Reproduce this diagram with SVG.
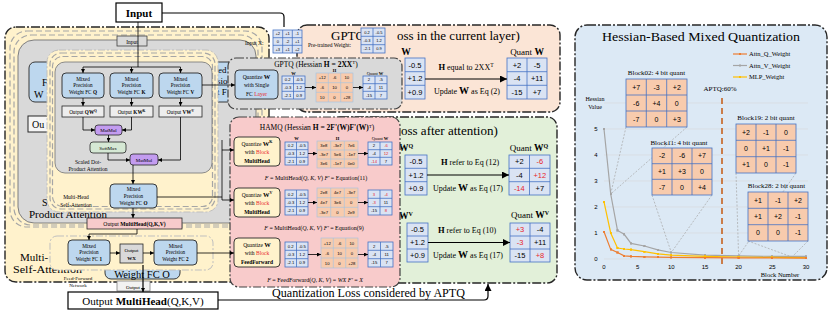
<svg xmlns="http://www.w3.org/2000/svg" width="831" height="317" viewBox="0 0 831 317">
<defs>
<style>
.sf{font-family:"Liberation Serif","Times New Roman",serif}
.ss{font-family:"Liberation Sans",Arial,sans-serif}
.frame{stroke:#262626;stroke-width:1.4;stroke-dasharray:9 2 2 2}
.mp{fill:#bdd7ee;stroke:#262626;stroke-width:0.9}
.ob{fill:#ededed;stroke:#262626;stroke-width:0.8}
.bc{fill:#dae3f3;stroke:#4472c4;stroke-width:0.8}
.bl{fill:none;stroke:#4472c4;stroke-width:0.8}
.oc{fill:#f8cbad;stroke:#4472c4;stroke-width:0.8}
.ocs{fill:#f8cbad;stroke:#9dc3e6;stroke-width:0.6}
.bls{fill:none;stroke:#9dc3e6;stroke-width:0.6}
.cr{fill:#fff2cc;stroke:#262626;stroke-width:0.9}
.gd{fill:none;stroke:#a6a6a6;stroke-width:1.2;stroke-dasharray:6 3}
.c{fill:none;stroke:#000;stroke-width:0.8}
.ct{fill:none;stroke:#000;stroke-width:1.2}
.r{fill:#e8262a}
.grid{stroke:#d9d9d9;stroke-width:0.6}
.dl{fill:none;stroke:#a6a6a6;stroke-width:0.7;stroke-dasharray:2 1.5}
</style>
<marker id="a" viewBox="0 0 6 6" refX="6" refY="3" markerWidth="4" markerHeight="4" markerUnits="userSpaceOnUse" orient="auto"><path d="M0,0L6,3L0,6z" fill="#000"/></marker>
<marker id="A" viewBox="0 0 6 6" refX="6" refY="3" markerWidth="7" markerHeight="7" markerUnits="userSpaceOnUse" orient="auto"><path d="M0,0L6,3L0,6z" fill="#000"/></marker>
<marker id="mo" viewBox="0 0 2 2" refX="1" refY="1" markerWidth="2.4" markerHeight="2.4" markerUnits="userSpaceOnUse"><rect width="2" height="2" fill="#ed7d31"/></marker>
<marker id="mg" viewBox="0 0 2 2" refX="1" refY="1" markerWidth="2.4" markerHeight="2.4" markerUnits="userSpaceOnUse"><rect width="2" height="2" fill="#a5a5a5"/></marker>
<marker id="my" viewBox="0 0 2 2" refX="1" refY="1" markerWidth="2.4" markerHeight="2.4" markerUnits="userSpaceOnUse"><rect width="2" height="2" fill="#ffc000"/></marker>
</defs>
<rect width="831" height="317" fill="#fff"/>

<!-- left background frames -->
<g id="multi-self-attention-frame">
<rect x="5" y="27" width="264" height="255" rx="11" fill="#fff2cc" class="frame"/>
<rect x="10" y="31" width="252" height="196" rx="17" class="gd"/>
<rect x="14" y="35" width="244" height="190" rx="17" class="gd"/>
<rect x="18" y="40" width="238" height="183" rx="16" fill="#d9d9d9" stroke="#7f7f7f" stroke-width="1"/>
<g id="ghost-fc-left"><rect x="29" y="62" width="60" height="40" rx="6" class="mp" stroke-width="1.2"/><text class="sf" font-size="10" x="42" y="86">F</text><text class="sf" font-size="10" x="34" y="98">W</text></g>
<g id="ghost-out-left"><rect x="28" y="116" width="40" height="16" fill="#f5f5f5" stroke="#262626" stroke-width="1"/><text class="sf" font-size="10" x="32" y="128">Ou</text></g>
<g id="ghost-fc-right"><rect x="205" y="62" width="40" height="40" rx="6" class="mp" stroke-width="1.2"/><text class="sf" font-size="9"><tspan x="218" y="73">ed</tspan><tspan x="217" y="84">sio</tspan><tspan x="217" y="95">t F</tspan></text></g>
<text class="sf" font-size="10" x="42" y="206">S</text>
<text class="sf" font-size="10" x="29" y="218" textLength="78" lengthAdjust="spacingAndGlyphs">Product Attention</text>
<text class="sf" font-size="11" x="20" y="261">Multi-</text>
<text class="sf" font-size="11" x="13" y="273" textLength="69" lengthAdjust="spacingAndGlyphs">Self-Attention</text>
</g>

<g id="multi-head-self-attention">
<rect x="47" y="50" width="171" height="162" rx="12" fill="#fff2cc" stroke="#bfbfbf" stroke-width="1" stroke-dasharray="7 2 2 2"/>
<rect x="50" y="53" width="165" height="156" rx="11" class="gd" stroke-width="1"/>
<rect x="52.5" y="56.5" width="160" height="150" rx="10" class="gd" stroke-width="1"/>
<text class="sf" font-size="5.5" text-anchor="middle"><tspan x="76" y="199">Multi-Head</tspan><tspan x="76" y="207">Self-Attention</tspan></text>
</g>
<g id="scaled-dot-product-attention">
<rect x="55" y="62" width="157" height="111" rx="10" fill="#d9d9d9" stroke="#7f7f7f" stroke-width="0.9"/>
<text class="sf" font-size="5.5" text-anchor="middle"><tspan x="88" y="164">Scaled Dot-</tspan><tspan x="88" y="171">Product Attention</tspan></text>
</g>
<g id="ghost-input"><rect x="117" y="36" width="30" height="10" fill="#d9d9d9" stroke="#404040" stroke-width="0.8"/><text class="sf" font-size="5.5" x="132" y="43.8" text-anchor="middle">Input</text></g>

<g id="fc-q"><rect x="62" y="73" width="42" height="25" rx="4" class="mp"/><text class="sf" font-size="5.2" text-anchor="middle"><tspan x="83" y="80.5">Mixed</tspan><tspan x="83" y="87.3">Precision</tspan><tspan x="83" y="94.1">Weight FC <tspan font-weight="bold">Q</tspan></tspan></text></g>
<g id="fc-k"><rect x="110" y="73" width="43" height="25" rx="4" class="mp"/><text class="sf" font-size="5.2" text-anchor="middle"><tspan x="131.5" y="80.5">Mixed</tspan><tspan x="131.5" y="87.3">Precision</tspan><tspan x="131.5" y="94.1">Weight FC <tspan font-weight="bold">K</tspan></tspan></text></g>
<g id="fc-v"><rect x="159" y="73" width="43" height="25" rx="4" class="mp"/><text class="sf" font-size="5.2" text-anchor="middle"><tspan x="180.5" y="80.5">Mixed</tspan><tspan x="180.5" y="87.3">Precision</tspan><tspan x="180.5" y="94.1">Weight FC <tspan font-weight="bold">V</tspan></tspan></text></g>
<g id="out-q"><rect x="62" y="106" width="42" height="11" class="ob"/><text class="sf" font-size="5.2" x="83" y="113.5" text-anchor="middle">Output <tspan font-weight="bold">QW</tspan><tspan font-weight="bold" font-size="3.6" dy="-2">Q</tspan></text></g>
<g id="out-k"><rect x="110" y="106" width="43" height="11" class="ob"/><text class="sf" font-size="5.2" x="131.5" y="113.5" text-anchor="middle">Output <tspan font-weight="bold">KW</tspan><tspan font-weight="bold" font-size="3.6" dy="-2">K</tspan></text></g>
<g id="out-v"><rect x="159" y="106" width="43" height="11" class="ob"/><text class="sf" font-size="5.2" x="180.5" y="113.5" text-anchor="middle">Output <tspan font-weight="bold">VW</tspan><tspan font-weight="bold" font-size="3.6" dy="-2">V</tspan></text></g>
<g id="matmul1"><rect x="95" y="125" width="27" height="10" rx="3" fill="#c39cf0" stroke="#262626" stroke-width="0.8"/><text class="sf" font-size="5" x="108.5" y="132" text-anchor="middle">MatMul</text></g>
<g id="softmax"><rect x="90" y="142" width="36" height="11" rx="3" fill="#d5e8d4" stroke="#262626" stroke-width="0.8"/><text class="sf" font-size="5" x="108" y="149.6" text-anchor="middle">SoftMax</text></g>
<g id="matmul2"><rect x="130" y="154" width="28" height="11" rx="3" fill="#c39cf0" stroke="#262626" stroke-width="0.8"/><text class="sf" font-size="5" x="144" y="161.6" text-anchor="middle">MatMul</text></g>
<g id="fc-o"><rect x="110" y="184" width="47" height="24" rx="4" class="mp"/><text class="sf" font-size="5.2" text-anchor="middle"><tspan x="133.5" y="191.3">Mixed</tspan><tspan x="133.5" y="198.1">Precision</tspan><tspan x="133.5" y="204.9">Weight FC <tspan font-weight="bold">O</tspan></tspan></text></g>
<g id="out-multihead-small"><rect x="87" y="218" width="95" height="11" fill="#f8cbcb" stroke="#262626" stroke-width="0.8"/><text class="sf" font-size="5.6" x="134.5" y="225.6" text-anchor="middle">Output <tspan font-weight="bold">MultiHead(Q,K,V)</tspan></text></g>

<g id="ghost-fc-o-bottom"><rect x="105" y="245" width="75" height="34" rx="6" class="mp" stroke-width="1.2"/><text class="sf" font-size="10.5" x="142" y="278" text-anchor="middle">Weight FC O</text></g>
<g id="feed-forward-network">
<rect x="50" y="236" width="163" height="34" rx="7" fill="#fff2cc" stroke="#bfbfbf" stroke-width="1" stroke-dasharray="7 2 2 2"/>
<text class="sf" font-size="5" text-anchor="middle"><tspan x="78" y="280">Feed-Forward</tspan><tspan x="78" y="287">Network</tspan></text>
</g>
<g id="fc-1"><rect x="68" y="240" width="42" height="25" rx="4" class="mp"/><text class="sf" font-size="5.2" text-anchor="middle"><tspan x="89" y="247.5">Mixed</tspan><tspan x="89" y="254.3">Precision</tspan><tspan x="89" y="261.1">Weight FC <tspan font-weight="bold">1</tspan></tspan></text></g>
<g id="out-wx"><rect x="120" y="244" width="23" height="19" fill="#d9d9d9" stroke="#262626" stroke-width="0.8"/><text class="sf" font-size="5" text-anchor="middle"><tspan x="131.5" y="251.5">Output</tspan><tspan x="131.5" y="259.5" font-weight="bold">WX</tspan></text></g>
<g id="fc-2"><rect x="154" y="240" width="43" height="25" rx="4" class="mp"/><text class="sf" font-size="5.2" text-anchor="middle"><tspan x="175.5" y="247.5">Mixed</tspan><tspan x="175.5" y="254.3">Precision</tspan><tspan x="175.5" y="261.1">Weight FC <tspan font-weight="bold">2</tspan></tspan></text></g>
<g id="ghost-output-bottom"><rect x="117" y="281" width="33" height="10" fill="#f2f2f2" stroke="#7f7f7f" stroke-width="0.8"/><text class="sf" font-size="5" x="133" y="288.5" text-anchor="middle">Output</text></g>

<g id="input"><rect x="116" y="3" width="46" height="19" fill="#fff" stroke="#000" stroke-width="1.2"/><text class="sf" font-size="11" font-weight="bold" x="139" y="16.5" text-anchor="middle">Input</text></g>
<g id="output-multihead"><rect x="68" y="292" width="150" height="17" fill="#fff" stroke="#000" stroke-width="1.2"/><text class="sf" font-size="11" x="143" y="304.5" text-anchor="middle">Output <tspan font-weight="bold">MultiHead</tspan>(Q,K,V)</text></g>
<text class="sf" font-size="11.5" x="272" y="297" textLength="193" lengthAdjust="spacingAndGlyphs">Quantization Loss considered by APTQ</text>

<!-- GPTQ loss panel -->
<g id="gptq-loss">
<rect x="297" y="25" width="263" height="87" rx="10" fill="#fbe5d6" class="frame"/>
<text class="sf" font-size="13" x="331" y="40">GPTQ</text>
<text class="sf" font-size="13" x="397" y="40">oss in the current layer)</text>
<text class="sf" font-size="9.5" font-weight="bold" x="406" y="55" text-anchor="middle">W</text>
<rect x="405" y="58" width="20" height="41" class="bc"/><path class="bl" d="M405,71.7h20M405,85.3h20"/>
<g class="ss" font-size="7.5" text-anchor="middle"><text x="415" y="67.5">-0.5</text><text x="415" y="81.1">+1.2</text><text x="415" y="94.8">+0.9</text></g>
<text class="sf" font-size="9" x="527" y="55" text-anchor="middle">Quant <tspan font-weight="bold" font-size="9.5">W</tspan></text>
<rect x="507" y="58" width="40" height="41" class="bc"/><path class="bl" d="M527,58v41M507,71.7h40M507,85.3h40"/>
<g class="ss" font-size="7.5" text-anchor="middle"><text x="517" y="67.5">+2</text><text x="537" y="67.5">-5</text><text x="517" y="81.1">-4</text><text x="537" y="81.1">+11</text><text x="517" y="94.8">-15</text><text x="537" y="94.8">+7</text></g>
<text class="sf" font-size="8" x="466" y="70" text-anchor="middle"><tspan font-weight="bold" font-size="8.5">H</tspan> equal to 2XX<tspan font-size="5.5" dy="-3">T</tspan></text>
<text class="sf" font-size="8" x="467" y="94" text-anchor="middle">Update <tspan font-weight="bold" font-size="10">W</tspan> as Eq (2)</text>
</g>

<!-- APTQ loss panel -->
<g id="aptq-loss">
<rect x="330" y="117" width="227" height="166" rx="10" fill="#e2f0d9" class="frame"/>
<text class="sf" font-size="13" x="401" y="135">oss after attention)</text>
<text class="sf" font-size="9.5" font-weight="bold" x="406" y="151" text-anchor="middle">W<tspan font-size="6" dy="-3.5">Q</tspan></text>
<rect x="405" y="155" width="22" height="40" class="bc"/><path class="bl" d="M405,168.3h22M405,181.7h22"/>
<g class="ss" font-size="7.5" text-anchor="middle"><text x="416" y="164.3">-0.5</text><text x="416" y="177.6">+1.2</text><text x="416" y="190.9">+0.9</text></g>
<text class="sf" font-size="9" x="529" y="151" text-anchor="middle">Quant <tspan font-weight="bold" font-size="9.5">W</tspan><tspan font-weight="bold" font-size="6" dy="-3.5">Q</tspan></text>
<rect x="509" y="155" width="41" height="40" class="bc"/><path class="bl" d="M529.5,155v40M509,168.3h41M509,181.7h41"/>
<g class="ss" font-size="7.5" text-anchor="middle"><text x="519.3" y="164.3">+2</text><text x="539.8" y="164.3" class="r">-6</text><text x="519.3" y="177.6">-4</text><text x="539.8" y="177.6" class="r">+12</text><text x="519.3" y="190.9" class="r">-14</text><text x="539.8" y="190.9">+7</text></g>
<text class="sf" font-size="8" x="470" y="165" text-anchor="middle"><tspan font-weight="bold" font-size="8.5">H</tspan> refer to Eq (12)</text>
<text class="sf" font-size="8" x="468" y="191" text-anchor="middle">Update <tspan font-weight="bold" font-size="10">W</tspan> as Eq (17)</text>
<text class="sf" font-size="9.5" font-weight="bold" x="406" y="219" text-anchor="middle">W<tspan font-size="6" dy="-3.5">V</tspan></text>
<rect x="407" y="223" width="21" height="39" class="bc"/><path class="bl" d="M407,236h21M407,249h21"/>
<g class="ss" font-size="7.5" text-anchor="middle"><text x="417.5" y="232.1">-0.5</text><text x="417.5" y="245.1">+1.2</text><text x="417.5" y="258.1">+0.9</text></g>
<text class="sf" font-size="9" x="530" y="218" text-anchor="middle">Quant <tspan font-weight="bold" font-size="9.5">W</tspan><tspan font-weight="bold" font-size="6" dy="-3.5">V</tspan></text>
<rect x="510" y="223" width="40" height="39" class="bc"/><path class="bl" d="M530,223v39M510,236h40M510,249h40"/>
<g class="ss" font-size="7.5" text-anchor="middle"><text x="520" y="232.1" class="r">+3</text><text x="540" y="232.1">-4</text><text x="520" y="245.1" class="r">-3</text><text x="540" y="245.1">+11</text><text x="520" y="258.1">-15</text><text x="540" y="258.1" class="r">+8</text></g>
<text class="sf" font-size="8" x="467" y="233" text-anchor="middle"><tspan font-weight="bold" font-size="8.5">H</tspan> refer to Eq (10)</text>
<text class="sf" font-size="8" x="468" y="258" text-anchor="middle">Update <tspan font-weight="bold" font-size="10">W</tspan> as Eq (17)</text>
</g>

<!-- floating input / weight matrices -->
<g id="input-x">
<text class="sf" font-size="5.5" x="245" y="45">Input X:</text>
<rect x="273" y="30" width="29" height="23" class="bc"/><path class="bl" d="M282.7,30v23M292.3,30v23M273,37.7h29M273,45.3h29"/>
<g class="ss" font-size="4" text-anchor="middle"><text x="277.8" y="35.3">+2</text><text x="287.5" y="35.3">+1</text><text x="297.2" y="35.3">-1</text><text x="277.8" y="43">0</text><text x="287.5" y="43">-2</text><text x="297.2" y="43">+1</text><text x="277.8" y="50.7">+3</text><text x="287.5" y="50.7">+1</text><text x="297.2" y="50.7">+2</text></g>
</g>
<g id="pretrained-weight">
<text class="sf" font-size="5.5" x="308" y="46.5">Pre-trained Weight:</text>
<rect x="361" y="28" width="24" height="25" class="bc"/><path class="bl" d="M373,28v25M361,36.3h24M361,44.7h24"/>
<g class="ss" font-size="4" text-anchor="middle"><text x="367" y="33.7">0.2</text><text x="379" y="33.7">-0.5</text><text x="367" y="42">-0.3</text><text x="379" y="42">1.2</text><text x="367" y="50.3">-2.1</text><text x="379" y="50.3">0.9</text></g>
</g>

<!-- GPTQ box -->
<g id="gptq">
<rect x="228" y="58" width="174" height="51" rx="8" fill="#d9d9d9" stroke="#404040" stroke-width="1.2" stroke-dasharray="8 2 2 2"/>
<text class="sf" font-size="7.5" x="316" y="66.5" text-anchor="middle">GPTQ  (Hessian <tspan font-weight="bold">H = 2XX</tspan><tspan font-size="5" dy="-2.5">T</tspan><tspan dy="2.5">)</tspan></text>
<rect x="235" y="70" width="43" height="29" rx="4" class="mp"/>
<text class="sf" font-size="5.5" text-anchor="middle"><tspan x="256.5" y="78.5">Quantize <tspan font-weight="bold" font-size="6.5">W</tspan></tspan><tspan x="256.5" y="87">with Single</tspan><tspan x="256.5" y="95.5">FC <tspan class="r">Layer</tspan></tspan></text>
<text class="sf" font-size="4.5" font-weight="bold" x="293.5" y="74.5" text-anchor="middle">W</text>
<rect x="282" y="76" width="23" height="23" class="bc"/><path class="bl" d="M293.5,76v23M282,83.7h23M282,91.3h23"/>
<g class="ss" font-size="4.2" text-anchor="middle"><text x="287.75" y="81.3">0.2</text><text x="299.25" y="81.3">-0.5</text><text x="287.75" y="89">-0.3</text><text x="299.25" y="89">1.2</text><text x="287.75" y="96.7">-2.1</text><text x="299.25" y="96.7">0.9</text></g>
<text class="sf" font-size="4.5" font-weight="bold" x="334.5" y="72.3" text-anchor="middle">H</text>
<rect x="316" y="73" width="37" height="29" class="ocs"/><path class="bls" d="M328.3,73v29M340.7,73v29M316,82.7h37M316,92.3h37"/>
<g class="ss" font-size="4.2" text-anchor="middle"><text x="322.2" y="79.3">+12</text><text x="334.5" y="79.3">-6</text><text x="346.8" y="79.3">10</text><text x="322.2" y="89">-6</text><text x="334.5" y="89">10</text><text x="346.8" y="89">0</text><text x="322.2" y="98.7">10</text><text x="334.5" y="98.7">0</text><text x="346.8" y="98.7">+28</text></g>
<text class="sf" font-size="4.5" x="375" y="74.5" text-anchor="middle">Quant <tspan font-weight="bold">W</tspan></text>
<rect x="363" y="76" width="24" height="23" class="bc"/><path class="bl" d="M375,76v23M363,83.7h24M363,91.3h24"/>
<g class="ss" font-size="4.2" text-anchor="middle"><text x="369" y="81.3">2</text><text x="381" y="81.3">-5</text><text x="369" y="89">-4</text><text x="381" y="89">11</text><text x="369" y="96.7">-15</text><text x="381" y="96.7">7</text></g>
</g>

<!-- HAMQ box -->
<g id="hamq">
<rect x="230" y="117" width="170" height="170" rx="9" fill="#f8cbcb" stroke="#404040" stroke-width="1.2" stroke-dasharray="8 2 2 2"/>
<text class="sf" font-size="7.5" x="317" y="130" text-anchor="middle">HAMQ (Hessian <tspan font-weight="bold">H = 2F'(W)F'(W)</tspan><tspan font-size="5" dy="-2.5">T</tspan><tspan dy="2.5">)</tspan></text>
<g id="hamq-k">
<rect x="234" y="137" width="46" height="29" rx="4" class="cr"/>
<text class="sf" font-size="5.5" text-anchor="middle"><tspan x="257" y="145.5">Quantize <tspan font-weight="bold" font-size="6.5">W</tspan><tspan font-weight="bold" font-size="4" dy="-2.5">K</tspan></tspan><tspan x="257" y="154">with <tspan class="r">Block</tspan></tspan><tspan x="257" y="162.5" font-weight="bold">MultiHead</tspan></text>
<text class="sf" font-size="4.5" font-weight="bold" x="296.5" y="140.3" text-anchor="middle">W</text>
<rect x="285" y="142" width="23" height="23" class="bc"/><path class="bl" d="M296.5,142v23M285,149.7h23M285,157.3h23"/>
<g class="ss" font-size="4.2" text-anchor="middle"><text x="290.75" y="147.3">0.2</text><text x="302.25" y="147.3">-0.5</text><text x="290.75" y="155">-0.3</text><text x="302.25" y="155">1.2</text><text x="290.75" y="162.7">-2.1</text><text x="302.25" y="162.7">0.9</text></g>
<text class="sf" font-size="4.5" font-weight="bold" x="337.5" y="139.5" text-anchor="middle">H</text>
<rect x="317" y="141" width="41" height="27" class="ocs"/><path class="bls" d="M330.7,141v27M344.3,141v27M317,150h41M317,159h41"/>
<g class="ss" font-size="4.2" text-anchor="middle"><text x="323.8" y="147">3e8</text><text x="337.5" y="147">-3e7</text><text x="351.2" y="147">7e6</text><text x="323.8" y="156">-3e7</text><text x="337.5" y="156">5e6</text><text x="351.2" y="156">-1e7</text><text x="323.8" y="165">3e6</text><text x="337.5" y="165">-1e7</text><text x="351.2" y="165">0e0</text></g>
<text class="sf" font-size="4.5" x="380" y="140.3" text-anchor="middle">Quant <tspan font-weight="bold">W</tspan></text>
<rect x="368" y="142" width="24" height="23" class="bc"/><path class="bl" d="M380,142v23M368,149.7h24M368,157.3h24"/>
<g class="ss" font-size="4.2" text-anchor="middle"><text x="374" y="147.3">2</text><text x="386" y="147.3" class="r">-6</text><text x="374" y="155">-4</text><text x="386" y="155" class="r">12</text><text x="374" y="162.7" class="r">-14</text><text x="386" y="162.7">7</text></g>
<text class="sf" font-size="6" x="316" y="180" text-anchor="middle"><tspan font-style="italic">F</tspan> = MultiHead(<tspan font-style="italic">Q, K, V</tspan>)    <tspan font-style="italic">F'</tspan> = Equation(11)</text>
</g>
<g id="hamq-v">
<rect x="234" y="188" width="46" height="29" rx="4" class="cr"/>
<text class="sf" font-size="5.5" text-anchor="middle"><tspan x="257" y="196.5">Quantize <tspan font-weight="bold" font-size="6.5">W</tspan><tspan font-weight="bold" font-size="4" dy="-2.5">V</tspan></tspan><tspan x="257" y="205">with <tspan class="r">Block</tspan></tspan><tspan x="257" y="213.5" font-weight="bold">MultiHead</tspan></text>
<rect x="285" y="190" width="23" height="25" class="bc"/><path class="bl" d="M296.5,190v25M285,198.3h23M285,206.7h23"/>
<g class="ss" font-size="4.2" text-anchor="middle"><text x="290.75" y="195.7">0.2</text><text x="302.25" y="195.7">-0.5</text><text x="290.75" y="204">-0.3</text><text x="302.25" y="204">1.2</text><text x="290.75" y="212.3">-2.1</text><text x="302.25" y="212.3">0.9</text></g>
<rect x="317" y="188" width="41" height="29" class="ocs"/><path class="bls" d="M330.7,188v29M344.3,188v29M317,197.7h41M317,207.3h41"/>
<g class="ss" font-size="4.2" text-anchor="middle"><text x="323.8" y="194.3">2e8</text><text x="337.5" y="194.3">4e7</text><text x="351.2" y="194.3">-3e7</text><text x="323.8" y="204">4e7</text><text x="337.5" y="204">3e6</text><text x="351.2" y="204">0</text><text x="323.8" y="213.7">-3e7</text><text x="337.5" y="213.7">0</text><text x="351.2" y="213.7">2e9</text></g>
<rect x="368" y="190" width="24" height="25" class="bc"/><path class="bl" d="M380,190v25M368,198.3h24M368,206.7h24"/>
<g class="ss" font-size="4.2" text-anchor="middle"><text x="374" y="195.7" class="r">3</text><text x="386" y="195.7" class="r">-4</text><text x="374" y="204" class="r">-3</text><text x="386" y="204">11</text><text x="374" y="212.3">-15</text><text x="386" y="212.3" class="r">8</text></g>
<text class="sf" font-size="6" x="314" y="230" text-anchor="middle"><tspan font-style="italic">F</tspan> = MultiHead(<tspan font-style="italic">Q, K, V</tspan>)    <tspan font-style="italic">F'</tspan> = Equation(9)</text>
</g>
<g id="hamq-ffn">
<rect x="234" y="238" width="46" height="29" rx="4" class="cr"/>
<text class="sf" font-size="5.5" text-anchor="middle"><tspan x="257" y="246.5">Quantize <tspan font-weight="bold" font-size="6.5">W</tspan></tspan><tspan x="257" y="255">with <tspan class="r">Block</tspan></tspan><tspan x="257" y="263.5" font-weight="bold">FeedForward</tspan></text>
<rect x="285" y="242" width="23" height="25" class="bc"/><path class="bl" d="M296.5,242v25M285,250.3h23M285,258.7h23"/>
<g class="ss" font-size="4.2" text-anchor="middle"><text x="290.75" y="247.7">0.2</text><text x="302.25" y="247.7">-0.5</text><text x="290.75" y="256">-0.3</text><text x="302.25" y="256">1.2</text><text x="290.75" y="264.3">-2.1</text><text x="302.25" y="264.3">0.9</text></g>
<rect x="321" y="238" width="37" height="30" class="ocs"/><path class="bls" d="M333.3,238v30M345.7,238v30M321,248h37M321,258h37"/>
<g class="ss" font-size="4.2" text-anchor="middle"><text x="327.2" y="244.5">+12</text><text x="339.5" y="244.5">-6</text><text x="351.8" y="244.5">10</text><text x="327.2" y="254.5">-6</text><text x="339.5" y="254.5">10</text><text x="351.8" y="254.5">0</text><text x="327.2" y="264.5">10</text><text x="339.5" y="264.5">0</text><text x="351.8" y="264.5">+28</text></g>
<rect x="368" y="242" width="25" height="25" class="bc"/><path class="bl" d="M380.5,242v25M368,250.3h25M368,258.7h25"/>
<g class="ss" font-size="4.2" text-anchor="middle"><text x="374.25" y="247.7">2</text><text x="386.75" y="247.7">-5</text><text x="374.25" y="256">-4</text><text x="386.75" y="256">11</text><text x="374.25" y="264.3">-15</text><text x="386.75" y="264.3">7</text></g>
<text class="sf" font-size="6" x="315" y="282" text-anchor="middle"><tspan font-style="italic">F</tspan> = FeedForward(<tspan font-style="italic">Q, K, V</tspan>) = <tspan font-style="italic">WX</tspan>    <tspan font-style="italic">F'</tspan> = <tspan font-style="italic">X</tspan></text>
</g>
</g>

<!-- Hessian-based mixed quantization panel -->
<g id="hessian-mixed-quantization">
<rect x="575" y="25" width="252" height="255" rx="12" fill="#dce9f5" class="frame"/>
<text class="sf" font-size="13.5" x="602" y="41" textLength="198" lengthAdjust="spacingAndGlyphs">Hessian-Based Mixed Quantization</text>
<path class="grid" d="M604,103H808M604,129H808M604,155H808M604,181H808M604,207H808M604,233H808M604,259H808"/>
<g class="ss" font-size="6" text-anchor="middle"><text x="596" y="131">5</text><text x="596" y="157">4</text><text x="596" y="183">3</text><text x="596" y="209">2</text><text x="596" y="235">1</text><text x="596" y="261">0</text>
<text x="604" y="269">0</text><text x="637.7" y="269">5</text><text x="671.3" y="269">10</text><text x="705" y="269">15</text><text x="738.6" y="269">20</text><text x="772.3" y="269">25</text><text x="806" y="269">30</text></g>
<text class="sf" font-size="6" text-anchor="middle"><tspan x="595" y="101">Hessian</tspan><tspan x="595" y="109">Value</tspan></text>
<text class="sf" font-size="6.5" x="780" y="276.5" text-anchor="middle">Block Number</text>
<path d="M722,98V265" stroke="#c55a11" stroke-width="1.5" stroke-dasharray="6 4" fill="none"/>
<text class="sf" font-size="7" x="720" y="90.5" text-anchor="middle">APTQ:60%</text>
<path class="dl" d="M626,127L610.7,194M687,127L610.7,194M652,195L671.3,252.5M712,195L671.3,252.5M736,173L738.6,256M796,173L738.6,256M748,241L792,257M808,241L792,257"/>
<polyline fill="none" stroke="#a5a5a5" stroke-width="1.2" marker-start="url(#mg)" marker-mid="url(#mg)" marker-end="url(#mg)" points="604,129 610.7,194 617.5,230.4 624.2,234.3 631,243.4 644.4,246 657.8,249.9 671.3,252.5 705,255.1 738.6,255.9 772,256.4 806,256.4"/>
<polyline fill="none" stroke="#ffc000" stroke-width="1.2" marker-start="url(#my)" marker-mid="url(#my)" marker-end="url(#my)" points="604,201.8 610.7,233 617.5,248 624.2,249 631,249.6 644.4,251.7 657.8,253.8 671.3,255.1 705,256.4 738.6,257 772,257.4 806,257.7"/>
<polyline fill="none" stroke="#ed7d31" stroke-width="1.2" marker-start="url(#mo)" marker-mid="url(#mo)" marker-end="url(#mo)" points="604,231.7 610.7,249.4 617.5,252.5 624.2,255.9 631,256.4 644.4,256.9 657.8,257.2 671.3,257.4 705,257.7 738.6,257.9 772,258 806,258.2"/>
<path d="M733,54H747" stroke="#ed7d31" stroke-width="1.2"/><rect x="739" y="53" width="2" height="2" fill="#ed7d31"/>
<path d="M733,65.5H747" stroke="#a5a5a5" stroke-width="1.2"/><rect x="739" y="64.5" width="2" height="2" fill="#a5a5a5"/>
<path d="M733,77H747" stroke="#ffc000" stroke-width="1.2"/><rect x="739" y="76" width="2" height="2" fill="#ffc000"/>
<g class="sf" font-size="6.5"><text x="749" y="56.2">Attn_Q_Weight</text><text x="749" y="67.7">Attn_V_Weight</text><text x="749" y="79.2">MLP_Weight</text></g>
<g id="block02">
<text class="sf" font-size="7" x="656.5" y="74.5" text-anchor="middle">Block02: 4 bit quant</text>
<rect x="626" y="79" width="61" height="48" class="oc"/><path class="bl" d="M646.3,79v48M666.7,79v48M626,95h61M626,111h61"/>
<g class="ss" font-size="7" text-anchor="middle"><text x="636.2" y="89.5">+7</text><text x="656.5" y="89.5">-3</text><text x="676.8" y="89.5">+2</text><text x="636.2" y="105.5">-6</text><text x="656.5" y="105.5">+4</text><text x="676.8" y="105.5">0</text><text x="636.2" y="121.5">-7</text><text x="656.5" y="121.5">0</text><text x="676.8" y="121.5">+3</text></g>
</g>
<g id="block11">
<text class="sf" font-size="7" x="679" y="144.5" text-anchor="middle">Block11: 4 bit quant</text>
<rect x="652" y="148" width="60" height="47" class="oc"/><path class="bl" d="M672,148v47M692,148v47M652,163.7h60M652,179.3h60"/>
<g class="ss" font-size="7" text-anchor="middle"><text x="662" y="158.3">-2</text><text x="682" y="158.3">-6</text><text x="702" y="158.3">+7</text><text x="662" y="174">+1</text><text x="682" y="174">+3</text><text x="702" y="174">0</text><text x="662" y="189.7">-7</text><text x="682" y="189.7">0</text><text x="702" y="189.7">+4</text></g>
</g>
<g id="block19">
<text class="sf" font-size="7" x="766" y="119.5" text-anchor="middle">Block19: 2 bit quant</text>
<rect x="736" y="124" width="60" height="49" class="oc"/><path class="bl" d="M756,124v49M776,124v49M736,140.3h60M736,156.7h60"/>
<g class="ss" font-size="7" text-anchor="middle"><text x="746" y="134.7">+2</text><text x="766" y="134.7">-1</text><text x="786" y="134.7">0</text><text x="746" y="151">0</text><text x="766" y="151">+1</text><text x="786" y="151">-1</text><text x="746" y="167.3">+1</text><text x="766" y="167.3">0</text><text x="786" y="167.3">-1</text></g>
</g>
<g id="block28">
<text class="sf" font-size="7" x="776.5" y="187.5" text-anchor="middle">Block28: 2 bit quant</text>
<rect x="748" y="192" width="60" height="49" class="oc"/><path class="bl" d="M768,192v49M788,192v49M748,208.3h60M748,224.7h60"/>
<g class="ss" font-size="7" text-anchor="middle"><text x="758" y="202.7">+1</text><text x="778" y="202.7">-1</text><text x="798" y="202.7">+2</text><text x="758" y="219">+1</text><text x="778" y="219">+2</text><text x="798" y="219">-1</text><text x="758" y="235.3">0</text><text x="778" y="235.3">0</text><text x="798" y="235.3">-1</text></g>
</g>
</g>

<!-- connectors -->
<g id="connectors">
<path class="ct" d="M162,13H280Q284,13 284,17V27"/>
<path class="c" d="M138,22V67M83,67H180.5"/>
<path class="c" marker-end="url(#a)" d="M83,67V73"/>
<path class="c" marker-end="url(#a)" d="M131.5,67V73"/>
<path class="c" marker-end="url(#a)" d="M180.5,67V73"/>
<path class="c" marker-end="url(#a)" d="M83,98V106"/>
<path class="c" marker-end="url(#a)" d="M131.5,98V106"/>
<path class="c" marker-end="url(#a)" d="M180.5,98V106"/>
<path class="c" marker-end="url(#a)" d="M83,117V130H95"/>
<path class="c" marker-end="url(#a)" d="M131.5,117V130H122"/>
<path class="c" marker-end="url(#a)" d="M108.5,135V142"/>
<path class="c" marker-end="url(#a)" d="M108,153V160H130"/>
<path class="c" marker-end="url(#a)" d="M180.5,117V160H158"/>
<path class="c" marker-end="url(#a)" d="M133,165V184"/>
<path class="c" marker-end="url(#a)" d="M133,208V218"/>
<path class="c" marker-end="url(#a)" d="M137,229V234H89V240"/>
<path class="c" marker-end="url(#a)" d="M110,253H120"/>
<path class="c" marker-end="url(#a)" d="M143,253H154"/>
<path class="c" marker-end="url(#a)" d="M197,253H234"/>
<path class="c" marker-end="url(#a)" d="M202,85H235"/>
<path class="c" d="M157,197H222M222,140V200"/>
<path class="c" marker-end="url(#a)" d="M222,150H234"/>
<path class="c" marker-end="url(#a)" d="M222,200H234"/>
<path class="ct" marker-end="url(#a)" d="M143,265V292"/>
<path class="ct" marker-end="url(#A)" d="M218,300H484Q488,300 488,296V284"/>
<path class="c" marker-end="url(#a)" d="M305,87.5H316"/>
<path class="c" marker-end="url(#a)" d="M353,87.5H363"/>
<path class="c" marker-end="url(#a)" d="M308,153.5H317"/>
<path class="c" marker-end="url(#a)" d="M358,153.5H368"/>
<path class="c" marker-end="url(#a)" d="M308,202.5H317"/>
<path class="c" marker-end="url(#a)" d="M358,202.5H368"/>
<path class="c" marker-end="url(#a)" d="M308,254.5H321"/>
<path class="c" marker-end="url(#a)" d="M358,254.5H368"/>
<path class="ct" marker-end="url(#A)" d="M425,79H507"/>
<path class="ct" marker-end="url(#A)" d="M427,175H509"/>
<path class="ct" marker-end="url(#A)" d="M428,242.5H510"/>
</g>
</svg>
